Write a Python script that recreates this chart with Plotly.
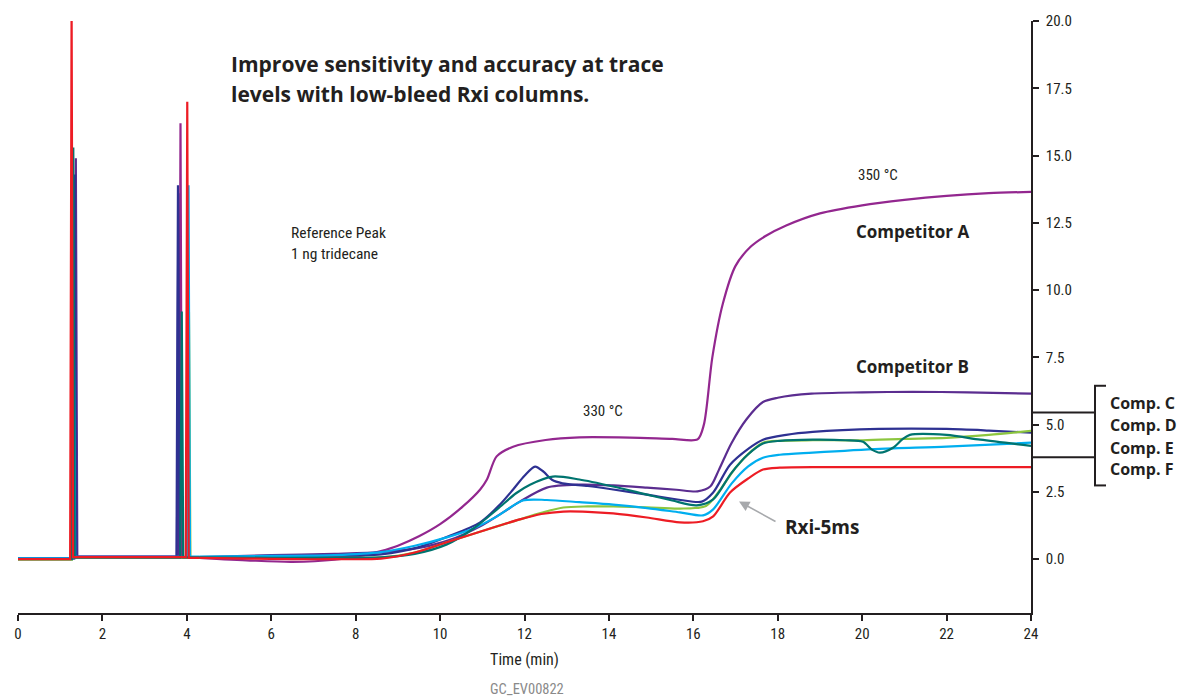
import plotly.graph_objects as go

# ---------------- data ----------------
# Reference peaks (time in min, height)
red_peak_t = [1.27, 4.01]
red_peak_h = [20.6, 17.0]
compA_peak_t = [1.30, 3.85]
compA_peak_h = [12.0, 16.2]
compB_peak_t = [1.37, 3.80]
compB_peak_h = [14.9, 13.6]
navy_peak_t = [1.35, 3.79]
navy_peak_h = [14.3, 13.9]
teal_peak_t = [1.31, 3.88]
teal_peak_h = [15.3, 9.2]
blue_peak_t = [1.32, 4.04]
blue_peak_h = [8.9, 13.9]
green_peak_t = [1.31, 4.05]
green_peak_h = [8.4, 9.2]

# Baseline levels: before first peak, between peaks, after second peak
red_base = [0.0, 0.08, 0.05]
compA_base = [0.02, 0.1, 0.05]
compB_base = [0.03, 0.1, 0.08]
navy_base = [0.03, 0.08, 0.08]
teal_base = [0.0, 0.06, 0.07]
blue_base = [0.03, 0.09, 0.1]
green_base = [-0.02, 0.06, 0.05]

# Baseline drift / column bleed (time in min, signal)
compA_t = [4.3, 5.5, 6.5, 7.5, 8.2, 8.6, 9.0, 9.5, 10.0, 10.54, 10.95, 11.11, 11.34, 11.73, 12.5, 13.3,
           14.5, 15.5, 16.1, 16.25, 16.45, 16.7, 17.0, 17.35, 17.7, 18.2, 19.0, 20.0, 21.0, 22.0, 23.0, 24.0]
compA_y = [0.05, -0.05, -0.1, -0.02, 0.15, 0.3, 0.5, 0.85, 1.3, 1.96, 2.59, 2.96, 3.82, 4.18, 4.43, 4.53,
           4.52, 4.47, 4.45, 5.0, 7.5, 9.5, 10.9, 11.6, 12.0, 12.4, 12.85, 13.15, 13.35, 13.5, 13.6, 13.65]

compB_t = [4.3, 6.0, 7.5, 8.6, 9.5, 10.2, 10.95, 11.5, 11.89, 12.53, 13.31, 14.1, 14.9, 15.6, 16.1, 16.4,
           16.6, 16.9, 17.26, 17.65, 18.0, 18.8, 20.0, 21.2, 22.5, 24.0]
compB_y = [0.08, 0.15, 0.2, 0.26, 0.42, 0.7, 1.22, 1.75, 2.14, 2.66, 2.77, 2.74, 2.66, 2.58, 2.52, 2.7,
           3.3, 4.3, 5.2, 5.84, 6.0, 6.15, 6.2, 6.22, 6.2, 6.15]

navy_t = [4.3, 6.0, 7.5, 8.6, 9.5, 10.2, 10.95, 11.4, 11.73, 12.0, 12.25, 12.45, 12.65, 12.9, 13.5, 14.1,
          14.9, 15.7, 16.2, 16.47, 16.87, 17.3, 17.65, 18.2, 18.83, 20.4, 22.0, 23.0, 24.0]
navy_y = [0.08, 0.08, 0.1, 0.18, 0.45, 0.85, 1.37, 2.0, 2.59, 3.1, 3.44, 3.25, 2.95, 2.82, 2.72, 2.59,
          2.4, 2.2, 2.14, 2.48, 3.51, 4.1, 4.44, 4.62, 4.73, 4.84, 4.84, 4.78, 4.7]

teal_t = [4.3, 6.0, 7.5, 8.6, 9.4, 10.16, 10.8, 11.35, 11.8, 12.13, 12.67, 13.3, 14.1, 14.9, 15.5, 16.08,
          16.47, 16.9, 17.3, 17.65, 18.05, 18.83, 19.6, 20.02, 20.23, 20.42, 20.73, 20.95, 21.13, 22.0, 22.8, 24.0]
teal_y = [0.07, 0.05, 0.05, 0.07, 0.2, 0.55, 1.15, 1.85, 2.45, 2.77, 3.07, 2.96, 2.7, 2.4, 2.18, 2.0,
          2.22, 3.2, 3.9, 4.3, 4.4, 4.44, 4.42, 4.36, 4.07, 3.96, 4.14, 4.45, 4.62, 4.62, 4.44, 4.21]

green_t = [4.3, 6.0, 7.5, 8.6, 9.4, 10.16, 11.0, 11.89, 12.4, 12.92, 13.5, 14.1, 14.9, 15.68, 16.3,
           16.6, 17.0, 17.4, 17.65, 18.05, 18.83, 20.02, 21.0, 22.0, 23.0, 24.0]
green_y = [0.05, 0.05, 0.05, 0.07, 0.25, 0.63, 1.05, 1.48, 1.72, 1.92, 1.96, 1.96, 1.93, 1.88, 1.98,
           2.5, 3.4, 4.05, 4.33, 4.4, 4.42, 4.42, 4.47, 4.51, 4.62, 4.77]

blue_t = [4.3, 6.0, 7.5, 8.6, 9.4, 10.16, 10.8, 11.35, 11.96, 12.53, 13.3, 14.1, 14.9, 15.68, 16.23,
          16.47, 16.9, 17.3, 17.65, 18.05, 18.83, 20.42, 22.0, 24.0]
blue_y = [0.1, 0.12, 0.15, 0.26, 0.5, 0.81, 1.15, 1.59, 2.18, 2.2, 2.12, 2.03, 1.9, 1.74, 1.63,
          1.85, 2.8, 3.45, 3.77, 3.88, 3.96, 4.1, 4.18, 4.33]

red_t = [4.3, 5.5, 6.5, 7.5, 8.6, 9.4, 10.16, 11.0, 11.89, 12.4, 12.92, 13.5, 14.1, 14.9, 15.68, 16.23,
         16.47, 16.87, 17.3, 17.65, 18.05, 19.0, 20.0, 22.0, 24.0]
red_y = [0.05, 0.02, 0.0, 0.0, 0.02, 0.25, 0.63, 1.05, 1.48, 1.68, 1.77, 1.76, 1.7, 1.55, 1.37, 1.41,
         1.59, 2.48, 3.0, 3.33, 3.4, 3.42, 3.42, 3.42, 3.42]

x_ticks = [0, 2, 4, 6, 8, 10, 12, 14, 16, 18, 20, 22, 24]
y_ticks = [0.0, 2.5, 5.0, 7.5, 10.0, 12.5, 15.0, 17.5, 20.0]
comp_labels = ["Comp. C", "Comp. D", "Comp. E", "Comp. F"]

# ---------------- styles ----------------
series = [
    ("Competitor A", "#93278F", compA_peak_t, compA_peak_h, compA_base, compA_t, compA_y),
    ("Competitor B", "#5B2D90", compB_peak_t, compB_peak_h, compB_base, compB_t, compB_y),
    ("Comp. C", "#2E3192", navy_peak_t, navy_peak_h, navy_base, navy_t, navy_y),
    ("Comp. D", "#8DC63F", green_peak_t, green_peak_h, green_base, green_t, green_y),
    ("Comp. E", "#00AEEF", blue_peak_t, blue_peak_h, blue_base, blue_t, blue_y),
    ("Comp. F", "#00746F", teal_peak_t, teal_peak_h, teal_base, teal_t, teal_y),
    ("Rxi-5ms", "#ED1C24", red_peak_t, red_peak_h, red_base, red_t, red_y),
]

HW = 0.035  # half width of the sharp reference peaks (min)

fig = go.Figure()
for name, col, pt, ph, base, dt, dy in series:
    xs = [0.0, pt[0] - HW, pt[0], pt[0] + HW, pt[1] - HW, pt[1], pt[1] + HW, dt[0]]
    ys = [base[0], base[0], ph[0], base[1], base[1], ph[1], base[2], dy[0]]
    fig.add_trace(go.Scatter(x=xs, y=ys, mode="lines", name=name,
                             line=dict(color=col, width=2.2, shape="linear"),
                             showlegend=False, hoverinfo="skip"))
    fig.add_trace(go.Scatter(x=dt, y=dy, mode="lines", name=name,
                             line=dict(color=col, width=2.2, shape="spline", smoothing=0.8),
                             showlegend=False))

TXT = "#231F20"
NARROW = "Liberation Sans Narrow, Roboto Condensed, Arial Narrow, Roboto, sans-serif"
BOLD = "Open Sans, Lato, sans-serif"

fig.update_layout(
    width=1180, height=698,
    margin=dict(l=18, r=149, t=19, b=85),
    paper_bgcolor="white", plot_bgcolor="white",
    showlegend=False,
    font=dict(family=NARROW, color=TXT, size=14),
    xaxis=dict(range=[0, 24], tickvals=x_ticks, ticks="outside", ticklen=6, tickwidth=1.5,
               tickcolor=TXT, showline=True, linecolor=TXT, linewidth=1.5,
               showgrid=False, zeroline=False, tickfont=dict(size=15, family=NARROW),
               title=dict(text="Time (min)", font=dict(size=16, family=NARROW), standoff=12)),
    yaxis=dict(range=[-2, 20], side="right", tickvals=y_ticks, tickformat=".1f",
               ticks="outside", ticklen=6, tickwidth=1.5, tickcolor=TXT,
               showline=True, linecolor=TXT, linewidth=1.5, showgrid=False, zeroline=False,
               tickfont=dict(size=15, family=NARROW), ticklabelstandoff=4),
)

def px_x(p):
    return (p - 18) / 1013.0

def px_y(p):
    return (613 - p) / 594.0

def note(text, x, y, size, family, bold=False, anchor="left", color=TXT):
    fig.add_annotation(text=("<b>%s</b>" % text) if bold else text,
                       x=px_x(x), y=px_y(y), xref="paper", yref="paper",
                       xanchor=anchor, yanchor="middle", showarrow=False,
                       font=dict(size=size, family=family, color=color))

note("Improve sensitivity and accuracy at trace", 229, 62, 21, BOLD, bold=True)
note("levels with low-bleed Rxi columns.", 229, 92, 21, BOLD, bold=True)
note("Reference Peak", 289, 232, 15.5, NARROW)
note("1 ng tridecane", 289, 253, 15.5, NARROW)
note("330 °C", 603, 410, 15, NARROW, anchor="center")
note("350 °C", 878, 174, 15, NARROW, anchor="center")
note("Competitor A", 854, 230, 17, BOLD, bold=True)
note("Competitor B", 854, 366, 17, BOLD, bold=True)
note("Rxi-5ms", 783, 527, 19, BOLD, bold=True)
for lab, yy in zip(comp_labels, [402, 424, 447, 469]):
    note(lab, 1108, yy, 16, BOLD, bold=True)
note("GC_EV00822", 527, 690, 14.5, NARROW, anchor="center", color="#8A8A8A")

# arrow pointing at the Rxi-5ms trace
fig.add_annotation(x=px_x(739), y=px_y(501), xref="paper", yref="paper", text="",
                   showarrow=True, ax=38, ay=21, arrowhead=2, arrowsize=1.3,
                   arrowwidth=1.6, arrowcolor="#A7A9AC", standoff=0)

# bracket for Comp. C - F
def seg(x0, y0, x1, y1):
    fig.add_shape(type="line", xref="paper", yref="paper",
                  x0=px_x(x0), y0=px_y(y0), x1=px_x(x1), y1=px_y(y1),
                  line=dict(color=TXT, width=2))

seg(1095, 385, 1095, 485)
seg(1094, 385, 1106, 385)
seg(1094, 485, 1106, 485)
seg(1031, 411.7, 1095, 411.7)
seg(1031, 456.7, 1095, 456.7)

fig.write_html("out.html", config={"displayModeBar": False},
               post_script="document.body.style.margin='0';document.body.style.overflow='hidden';")
